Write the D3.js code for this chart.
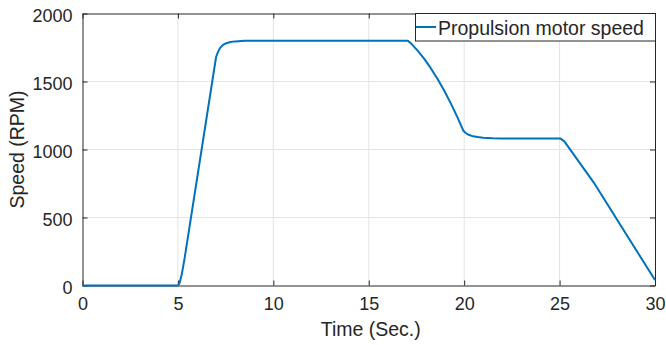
<!DOCTYPE html>
<html>
<head>
<meta charset="utf-8">
<script src="https://cdn.jsdelivr.net/npm/d3@7"></script>
<style>
  body { margin: 0; background: #fff; }
  text { font-family: "Liberation Sans", Arial, sans-serif; fill: #262626; }
</style>
</head>
<body>
<div id="svgcontainer"></div>
<script>
// values
var time  = [0, 5.0, 5.08, 5.2, 5.35, 7.0, 7.08, 7.2, 7.35, 7.5, 7.75, 8.0, 8.5, 9.0, 17.05, 17.25, 17.55, 17.9, 18.25, 18.6, 18.95, 19.3, 19.65, 19.95, 20.05, 20.2, 20.4, 20.7, 21.0, 21.5, 22.0, 23.0, 25.05, 25.25, 26.8, 30];
var speed = [0, 0, 15, 80, 200, 1680, 1710, 1745, 1768, 1780, 1790, 1795, 1799, 1800, 1800, 1775, 1729, 1668, 1598, 1520, 1434, 1339, 1236, 1140, 1125, 1110, 1100, 1092, 1087, 1083, 1081, 1080, 1080, 1060, 755, 40];
var xTicks = [0, 5, 10, 15, 20, 25, 30];
var yTicks = [0, 500, 1000, 1500, 2000];
var seriesName = "Propulsion motor speed";

var width = 666, height = 345;
var margin = {left: 82.5, right: 11, top: 13.5, bottom: 59.5};
var x = d3.scaleLinear().domain([0, 30]).range([margin.left, width - margin.right]);
var y = d3.scaleLinear().domain([0, 2000]).range([height - margin.bottom, margin.top]);

var data = time.map(function(t, i){ return {t: t, v: speed[i]}; });

var svg = d3.select("#svgcontainer")
            .append("svg")
            .attr("width", width)
            .attr("height", height);

// grid
svg.append("g").selectAll("line")
    .data(xTicks.slice(1, -1))
    .enter().append("line")
    .attr("x1", d => x(d)).attr("x2", d => x(d))
    .attr("y1", y(0)).attr("y2", y(2000))
    .attr("stroke", "#e3e3e3").attr("stroke-width", 1);
svg.append("g").selectAll("line")
    .data(yTicks.slice(1, -1))
    .enter().append("line")
    .attr("x1", x(0)).attr("x2", x(30))
    .attr("y1", d => y(d)).attr("y2", d => y(d))
    .attr("stroke", "#e3e3e3").attr("stroke-width", 1);

// axes (ticks pointing inward, box on)
var tk = 5;
var fmt = d3.format("d");
var axBottom = svg.append("g")
    .attr("transform", "translate(0," + y(0) + ")")
    .call(d3.axisBottom(x).tickValues(xTicks).tickFormat(fmt).tickSizeInner(-tk).tickSizeOuter(0).tickPadding(12));
var axLeft = svg.append("g")
    .attr("transform", "translate(" + x(0) + ",0)")
    .call(d3.axisLeft(y).tickValues(yTicks).tickFormat(fmt).tickSizeInner(-tk).tickSizeOuter(0).tickPadding(10));
var axTop = svg.append("g")
    .attr("transform", "translate(0," + y(2000) + ")")
    .call(d3.axisTop(x).tickValues(xTicks).tickSizeInner(-tk).tickSizeOuter(0).tickFormat(""));
var axRight = svg.append("g")
    .attr("transform", "translate(" + x(30) + ",0)")
    .call(d3.axisRight(y).tickValues(yTicks).tickSizeInner(-tk).tickSizeOuter(0).tickFormat(""));

[axBottom, axLeft, axTop, axRight].forEach(function(a){
    a.selectAll("path").attr("stroke", "#262626").attr("stroke-width", 1);
    a.selectAll("line").attr("stroke", "#262626");
    a.selectAll("text").attr("font-size", "18px").attr("fill", "#262626")
        .style("font-family", "'Liberation Sans', Arial, sans-serif");
});
axLeft.selectAll("text").attr("dy", "0.42em");

// the series
var line = d3.line()
    .x(d => x(d.t))
    .y(d => y(d.v));
svg.append("path")
    .datum(data)
    .attr("fill", "none")
    .attr("stroke", "#0072BD")
    .attr("stroke-width", 2)
    .attr("stroke-linejoin", "round")
    .attr("d", line);

// axis labels
svg.append("text")
    .attr("x", (x(0) + x(30)) / 2 + 2)
    .attr("y", 336)
    .attr("text-anchor", "middle")
    .attr("font-size", "19.5px")
    .text("Time (Sec.)");
svg.append("text")
    .attr("transform", "translate(24," + ((y(0) + y(2000)) / 2) + ") rotate(-90)")
    .attr("text-anchor", "middle")
    .attr("font-size", "19.5px")
    .text("Speed (RPM)");

// legend
var lg = svg.append("g");
lg.append("rect")
    .attr("x", 415.5).attr("y", 13.5)
    .attr("width", 240).attr("height", 27.5)
    .attr("fill", "#fff").attr("stroke", "#262626").attr("stroke-width", 1);
lg.append("line")
    .attr("x1", 416).attr("x2", 436)
    .attr("y1", 27).attr("y2", 27)
    .attr("stroke", "#0072BD").attr("stroke-width", 2);
lg.append("text")
    .attr("x", 438).attr("y", 34.5)
    .attr("font-size", "19.5px")
    .text(seriesName);
</script>
</body>
</html>
